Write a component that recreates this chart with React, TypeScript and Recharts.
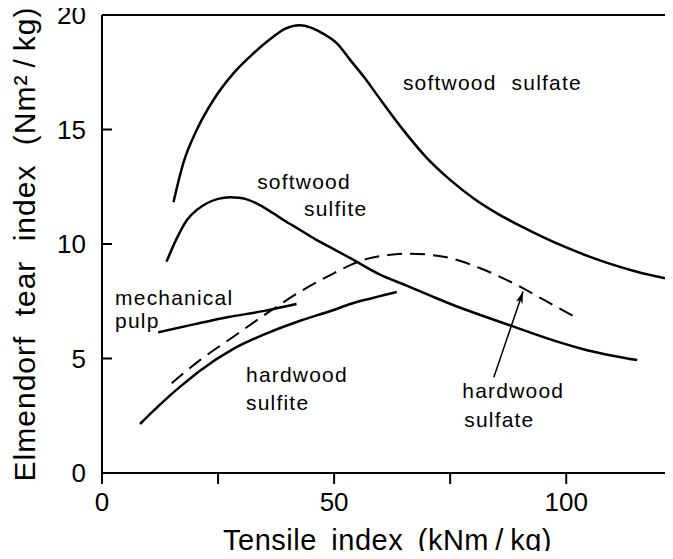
import React from 'react';
import { LineChart, Line, XAxis, YAxis, ReferenceLine, ReferenceDot } from 'recharts';

// tensile index (kNm/kg) vs Elmendorf tear index (Nm2/kg)
const softwoodSulfateX = [15.4, 17.5, 20.4, 24.0, 28.3, 32.6, 36.9, 39.5, 42.5, 45.0, 47.5, 50.6, 53.5, 56.4, 60, 65, 70, 75, 80, 85, 90, 95, 100, 105, 110, 115, 121.4];
const softwoodSulfateY = [11.83, 13.52, 14.98, 16.29, 17.45, 18.32, 19.05, 19.4, 19.55, 19.45, 19.2, 18.76, 18.03, 17.3, 16.3, 14.95, 13.75, 12.8, 12.0, 11.35, 10.8, 10.3, 9.85, 9.45, 9.1, 8.8, 8.5];

const softwoodSulfiteX = [13.9, 16.0, 18.3, 20.5, 22.6, 25.0, 27.6, 29.5, 31.2, 34.0, 36.9, 39.1, 42.7, 46.0, 49.9, 53.5, 59.9, 65.5, 71.0, 76.6, 81.5, 88.7, 95.9, 103.1, 110.3, 115.3];
const softwoodSulfiteY = [9.23, 10.2, 11.05, 11.5, 11.78, 11.97, 12.04, 12.02, 11.95, 11.7, 11.34, 11.05, 10.61, 10.2, 9.78, 9.38, 8.66, 8.19, 7.72, 7.26, 6.9, 6.39, 5.88, 5.44, 5.11, 4.93];

const hardwoodSulfateX = [15.0, 21.1, 28.3, 35.5, 42.7, 49.9, 53.5, 57.1, 61.7, 66.0, 71.0, 75.7, 81.5, 88.7, 95.9, 102.0];
const hardwoodSulfateY = [3.92, 4.93, 5.95, 6.97, 7.92, 8.72, 9.08, 9.35, 9.52, 9.58, 9.52, 9.35, 8.94, 8.28, 7.48, 6.8];

const hardwoodSulfiteX = [8.2, 11.0, 13.9, 17.5, 21.1, 28.3, 35.5, 42.7, 49.9, 53.5, 58.5, 63.5];
const hardwoodSulfiteY = [2.14, 2.7, 3.25, 3.88, 4.47, 5.42, 6.1, 6.65, 7.12, 7.38, 7.65, 7.9];

const mechanicalPulpX = [12.1, 20, 27, 35, 41.9];
const mechanicalPulpY = [6.14, 6.5, 6.8, 7.08, 7.38];

// pointer from the "hardwood sulfate" text to its curve
const arrowX = [84.4, 90.7];
const arrowY = [4.18, 7.93];

const xTicks = [0, 25, 50, 75, 100];
const yTicks = [0, 5, 10, 15, 20];

// curve annotations: text, left edge (x) and middle (y) in data units
const labels = [
  { text: 'softwood sulfate', x: 64.8, y: 17.07 },
  { text: 'softwood', x: 33.4, y: 12.71 },
  { text: 'sulfite', x: 43.5, y: 11.57 },
  { text: 'mechanical', x: 2.8, y: 7.64 },
  { text: 'pulp', x: 2.8, y: 6.64 },
  { text: 'hardwood', x: 31.0, y: 4.3 },
  { text: 'sulfite', x: 31.0, y: 3.06 },
  { text: 'hardwood', x: 77.6, y: 3.58 },
  { text: 'sulfate', x: 78.0, y: 2.33 },
];

const zip = (xs: number[], ys: number[]) => xs.map((x, i) => ({ x, y: ys[i] }));

const font = "'Liberation Sans', Arial, sans-serif";

const YTick = (props: any) => {
  const { x, y, payload } = props;
  const v = payload.value;
  return (
    <g>
      {v !== 0 && v !== 20 && (
        <line x1={x} x2={x + 10} y1={y} y2={y} stroke="#000" strokeWidth={2} />
      )}
      <text x={x - 16} y={y} dy="0.36em" textAnchor="end" fontSize={26} fontFamily={font} fill="#000">
        {v}
      </text>
    </g>
  );
};

const lineProps = {
  dataKey: 'y',
  type: 'monotone' as const,
  stroke: '#000',
  strokeWidth: 2.5,
  dot: false,
  activeDot: false,
  isAnimationActive: false,
};

export default function App() {
  return (
    <div style={{ margin: -8, width: 673, height: 559, background: '#fff', position: 'relative' }}>
      <svg width={0} height={0} style={{ position: 'absolute' }}>
        <defs>
          <marker id="arrowHead" viewBox="0 0 12 7" refX={12} refY={3.5} markerWidth={12} markerHeight={7} markerUnits="userSpaceOnUse" orient="auto">
            <path d="M0,0 L12,3.5 L0,7 L3,3.5 z" fill="#000" />
          </marker>
        </defs>
      </svg>
      <LineChart width={673} height={559} margin={{ top: 15, right: 0, bottom: 0, left: 0 }}>
        <XAxis
          type="number"
          dataKey="x"
          domain={[0, 123]}
          ticks={xTicks}
          tickFormatter={(v) => (v % 50 === 0 ? String(v) : '')}
          allowDataOverflow
          height={86}
          tickSize={11}
          tickMargin={9}
          axisLine={{ stroke: '#000', strokeWidth: 2 }}
          tickLine={{ stroke: '#000', strokeWidth: 2 }}
          tick={{ fill: '#000', fontSize: 26, fontFamily: font }}
          label={{
            value: 'Tensile index (kNm\u2009/\u2009kg)',
            position: 'insideBottom',
            offset: 9,
            fill: '#000',
            fontSize: 29,
            fontFamily: font,
            style: { wordSpacing: 6, letterSpacing: 0.5 },
          }}
        />
        <YAxis
          type="number"
          dataKey="y"
          domain={[0, 20]}
          ticks={yTicks}
          width={102}
          tickSize={0}
          tickMargin={0}
          axisLine={{ stroke: '#000', strokeWidth: 2 }}
          tickLine={false}
          tick={<YTick />}
          label={{
            value: 'Elmendorf tear index (Nm²\u2009/\u2009kg)',
            angle: -90,
            position: 'insideLeft',
            offset: 24,
            fill: '#000',
            fontSize: 30,
            fontFamily: font,
            style: { textAnchor: 'middle', wordSpacing: 10, letterSpacing: 1 },
          }}
        />
        <ReferenceLine y={20} stroke="#000" strokeWidth={2} />
        <Line {...lineProps} data={zip(softwoodSulfateX, softwoodSulfateY)} name="softwood sulfate" />
        <Line {...lineProps} data={zip(softwoodSulfiteX, softwoodSulfiteY)} name="softwood sulfite" />
        <Line {...lineProps} data={zip(hardwoodSulfateX, hardwoodSulfateY)} name="hardwood sulfate" strokeDasharray="15 8" strokeWidth={2} />
        <Line {...lineProps} data={zip(hardwoodSulfiteX, hardwoodSulfiteY)} name="hardwood sulfite" />
        <Line {...lineProps} data={zip(mechanicalPulpX, mechanicalPulpY)} name="mechanical pulp" />
        <Line {...lineProps} data={zip(arrowX, arrowY)} type="linear" strokeWidth={1.5} markerEnd="url(#arrowHead)" />
        {labels.map((l, i) => (
          <ReferenceDot
            key={i}
            x={l.x}
            y={l.y}
            r={0.1}
            fill="none"
            stroke="none"
            label={{
              value: l.text,
              position: 'right',
              offset: 0,
              fill: '#000',
              fontSize: 21,
              fontFamily: font,
              style: { letterSpacing: 1.2, wordSpacing: 8 },
            }}
          />
        ))}
      </LineChart>
    </div>
  );
}
